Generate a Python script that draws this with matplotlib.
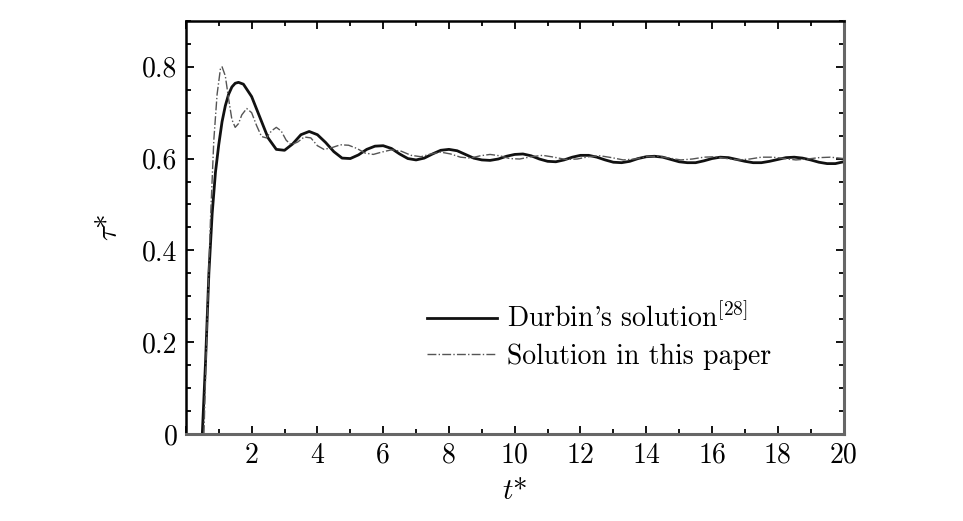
import matplotlib
matplotlib.use("Agg")
import matplotlib.pyplot as plt
from matplotlib.ticker import MultipleLocator, FuncFormatter

plt.rcParams['font.family'] = 'cmr10'
plt.rcParams['mathtext.fontset'] = 'cm'
plt.rcParams['axes.formatter.use_mathtext'] = True

# Durbin's solution (solid)
t_durbin = [0.50, 0.60, 0.70, 0.80, 0.90, 1.00, 1.10, 1.20, 1.30, 1.40, 1.50, 1.60,
            1.75, 2.00, 2.25, 2.50, 2.75, 3.00, 3.25, 3.50, 3.75, 4.00, 4.25, 4.50,
            4.75, 5.00, 5.25, 5.50, 5.75, 6.00, 6.25, 6.50, 6.75, 7.00, 7.25, 7.50,
            7.75, 8.00, 8.25, 8.50, 8.75, 9.00, 9.25, 9.50, 9.75, 10.00, 10.25, 10.50,
            10.75, 11.00, 11.25, 11.50, 11.75, 12.00, 12.25, 12.50, 12.75, 13.00, 13.25,
            13.50, 13.75, 14.00, 14.25, 14.50, 14.75, 15.00, 15.25, 15.50, 15.75, 16.00,
            16.25, 16.50, 16.75, 17.00, 17.25, 17.50, 17.75, 18.00, 18.25, 18.50, 18.75,
            19.00, 19.25, 19.50, 19.75, 20.00]
tau_durbin = [0.000, 0.160, 0.350, 0.480, 0.570, 0.630, 0.680, 0.715, 0.740, 0.756, 0.764, 0.766,
              0.762, 0.735, 0.690, 0.645, 0.620, 0.618, 0.632, 0.652, 0.659, 0.652, 0.635, 0.615,
              0.601, 0.600, 0.608, 0.620, 0.627, 0.628, 0.622, 0.610, 0.600, 0.597, 0.601, 0.610,
              0.618, 0.620, 0.617, 0.609, 0.601, 0.597, 0.596, 0.599, 0.605, 0.609, 0.610, 0.606,
              0.599, 0.594, 0.593, 0.597, 0.603, 0.607, 0.607, 0.603, 0.597, 0.592, 0.591,
              0.594, 0.600, 0.604, 0.605, 0.603, 0.598, 0.593, 0.591, 0.591, 0.595, 0.600,
              0.603, 0.602, 0.598, 0.594, 0.591, 0.591, 0.594, 0.598, 0.602, 0.603, 0.601,
              0.597, 0.592, 0.589, 0.589, 0.593]

# Solution in this paper (dash-dot)
t_paper = [0.55, 0.65, 0.75, 0.85, 0.95, 1.05, 1.10, 1.20, 1.30, 1.40, 1.50, 1.60, 1.70,
           1.85, 2.00, 2.15, 2.30, 2.45, 2.60, 2.75, 2.90, 3.05, 3.20, 3.40, 3.60, 3.80,
           4.00, 4.20, 4.45, 4.70, 4.95, 5.20, 5.45, 5.70, 5.95, 6.25, 6.55, 6.85, 7.15,
           7.45, 7.75, 8.05, 8.35, 8.65, 8.95, 9.25, 9.55, 9.85, 10.15, 10.50, 10.85,
           11.20, 11.55, 11.90, 12.25, 12.60, 12.95, 13.30, 13.65, 14.00, 14.35, 14.70,
           15.05, 15.40, 15.75, 16.10, 16.45, 16.80, 17.15, 17.50, 17.85, 18.20, 18.55,
           18.90, 19.25, 19.60, 20.00]
tau_paper = [0.000, 0.250, 0.470, 0.640, 0.740, 0.795, 0.800, 0.780, 0.730, 0.685, 0.668, 0.676, 0.695,
             0.709, 0.700, 0.672, 0.648, 0.645, 0.660, 0.668, 0.660, 0.640, 0.630, 0.636, 0.647, 0.645,
             0.628, 0.620, 0.624, 0.630, 0.629, 0.622, 0.612, 0.609, 0.614, 0.619, 0.616, 0.607, 0.604,
             0.610, 0.614, 0.610, 0.603, 0.601, 0.606, 0.609, 0.606, 0.600, 0.599, 0.604, 0.607,
             0.603, 0.598, 0.599, 0.604, 0.606, 0.602, 0.597, 0.599, 0.604, 0.605, 0.601,
             0.597, 0.599, 0.603, 0.604, 0.600, 0.597, 0.599, 0.603, 0.603, 0.600, 0.597,
             0.599, 0.602, 0.603, 0.600]

fig = plt.figure(figsize=(9.63, 5.21), dpi=100)
ax = fig.add_axes([0.193, 0.167, 0.683, 0.793])

ax.plot(t_durbin, tau_durbin, color='#111111', lw=2.0, label="Durbin's solution$^{[28]}$")
ax.plot(t_paper, tau_paper, color='#555555', lw=1.0, ls='-.', label='Solution in this paper')

ax.set_xlim(0, 20)
ax.set_ylim(0, 0.9)
ax.xaxis.set_major_locator(MultipleLocator(2))
ax.xaxis.set_minor_locator(MultipleLocator(1))
ax.yaxis.set_major_locator(MultipleLocator(0.2))
ax.yaxis.set_minor_locator(MultipleLocator(0.05))
ax.xaxis.set_major_formatter(FuncFormatter(lambda v, p: '' if v == 0 else '%d' % v))
ax.yaxis.set_major_formatter(FuncFormatter(lambda v, p: '0' if v == 0 else '%.1f' % v))

ax.tick_params(which='both', direction='in', top=True, right=True, labelsize=20, pad=6)
ax.tick_params(which='major', length=6, width=1.3)
ax.tick_params(which='minor', length=3.5, width=1.3)
for side in ['left', 'top']:
    ax.spines[side].set_linewidth(1.8)
for side in ['bottom', 'right']:
    ax.spines[side].set_linewidth(2.2)
    ax.spines[side].set_color('#666666')

ax.set_xlabel('$t$*', fontsize=21, labelpad=7)
ax.set_ylabel(r'$\tau$*', fontsize=21, labelpad=14)

ax.legend(loc='upper left', bbox_to_anchor=(0.345, 0.35), frameon=False, fontsize=20,
          handlelength=2.55, handletextpad=0.35, labelspacing=0.35, borderpad=0)

fig.savefig('out.png', dpi=100)
